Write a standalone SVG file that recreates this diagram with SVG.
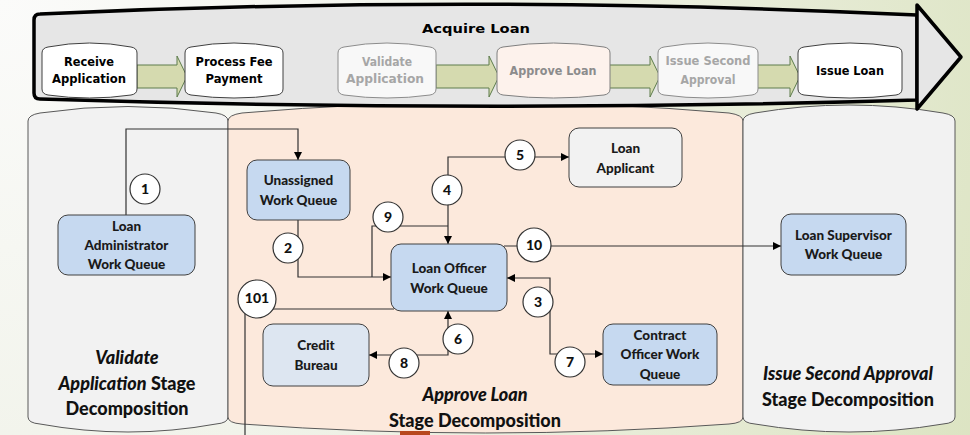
<svg xmlns="http://www.w3.org/2000/svg" width="970" height="435" viewBox="0 0 970 435">
  <defs>
    <radialGradient id="bg" cx="0" cy="0" r="1100" gradientUnits="userSpaceOnUse">
      <stop offset="0" stop-color="#fbfbfa"/>
      <stop offset="0.45" stop-color="#f1f3ea"/>
      <stop offset="1" stop-color="#dbe3c0"/>
    </radialGradient>
    <marker id="arr" viewBox="0 0 10 10" refX="10" refY="5" markerWidth="9" markerHeight="8" markerUnits="userSpaceOnUse" orient="auto-start-reverse">
      <path d="M0,0 L10,5 L0,10 Z" fill="#000"/>
    </marker>
    <style>
      .banner { fill: #e6e6e6; stroke: #000; stroke-width: 3.5; stroke-linejoin: round; }
      .step { stroke: #404040; stroke-width: 1; }
      .flow { fill: #d5daaf; stroke: #5e7d4d; stroke-width: 1; }
      .btxt { font-family: "DejaVu Sans", "Liberation Sans", sans-serif; font-weight: bold; font-size: 13px; text-anchor: middle; }
      .col { fill: #f2f2f2; stroke: #595959; stroke-width: 1; }
      .colmid { fill: #fce9dc; stroke: #595959; stroke-width: 1; }
      .node rect { stroke: #404040; stroke-width: 1; }
      .blue { fill: #c6d9f0; }
      .ntxt { font-family: Lato, "Liberation Sans", sans-serif; font-weight: 900; font-size: 13.5px; text-anchor: middle; fill: #1a1a1a; }
      .ctxt { font-family: Lato, "Liberation Sans", sans-serif; font-weight: 900; font-size: 18px; text-anchor: middle; fill: #111; }
      .conn { fill: none; stroke: #333; stroke-width: 1.2; }
      .num circle { fill: #fff; stroke: #333; stroke-width: 1.2; }
      .num text { font-family: Lato, "Liberation Sans", sans-serif; font-weight: 900; font-size: 14px; text-anchor: middle; fill: #111; }
    </style>
  </defs>

  <!-- backdrop -->
  <rect x="0" y="0" width="970" height="435" fill="url(#bg)"/>

  <!-- stage decomposition columns -->
  <g id="col-validate">
    <path class="col" d="M28,121 Q28,115 40,113 Q128,100 216,113 Q228,115 228,121 V417 Q228,423 216,424 Q128,440 40,424 Q28,423 28,417 Z"/>
  </g>
  <g id="col-approve">
    <path class="colmid" d="M228,121 Q228,115 242,113 Q485,92 729,113 Q743,115 743,121 V417 Q743,423 729,424 Q485,442 242,424 Q228,423 228,417 Z"/>
  </g>
  <g id="col-second">
    <path class="col" d="M743,121 Q743,115 755,113 Q849,97 943,113 Q955,115 955,121 V417 Q955,423 943,424 Q849,440 755,424 Q743,423 743,417 Z"/>
  </g>
  <rect x="400" y="431" width="30" height="4" fill="#b8481e"/>

  <!-- column captions -->
  <text class="ctxt" x="127" y="364" font-style="italic">Validate</text>
  <text class="ctxt" x="127" y="390"><tspan font-style="italic">Application</tspan> Stage</text>
  <text class="ctxt" x="127" y="415">Decomposition</text>
  <text class="ctxt" x="475" y="401" font-style="italic">Approve Loan</text>
  <text class="ctxt" x="475" y="427">Stage Decomposition</text>
  <text class="ctxt" x="848" y="380"><tspan font-style="italic">Issue Second Approval</tspan></text>
  <text class="ctxt" x="848" y="406">Stage Decomposition</text>

  <!-- value-stream banner -->
  <g id="banner">
    <path class="banner" d="M34,20 Q34,14 40,14 Q475,-6 917,15 L917,100 Q485,113 40,99 Q34,99 34,93 Z"/>
    <polygon class="banner" points="917,5 961,57 917,109"/>
    <text class="btxt" x="476" y="33" font-size="15" textLength="108" lengthAdjust="spacingAndGlyphs">Acquire Loan</text>

    <!-- flow arrows between steps -->
    <polygon class="flow" points="137,65 177,65 177,56 187,76.5 177,97 177,88 137,88"/>
    <polygon class="flow" points="436,65 489,65 489,56 499,76.5 489,97 489,88 436,88"/>
    <polygon class="flow" points="609,65 650,65 650,56 660,76.5 650,97 650,88 609,88"/>
    <polygon class="flow" points="757,65 790,65 790,56 800,76.5 790,97 790,88 757,88"/>

    <g id="step-receive">
      <path class="step" fill="#fff" d="M42,53 Q42,48 48,47 Q89.5,39 131,47 Q137,48 137,53 V89 Q137,94 131,95 Q89.5,101 48,95 Q42,94 42,89 Z"/>
      <text class="btxt" x="89" y="66" textLength="50" lengthAdjust="spacingAndGlyphs">Receive</text>
      <text class="btxt" x="89" y="83" textLength="74" lengthAdjust="spacingAndGlyphs">Application</text>
    </g>
    <g id="step-fee">
      <path class="step" fill="#fff" d="M185,53 Q185,48 191,47 Q234,39 277,47 Q283,48 283,53 V89 Q283,94 277,95 Q234,101 191,95 Q185,94 185,89 Z"/>
      <text class="btxt" x="234" y="66" textLength="77" lengthAdjust="spacingAndGlyphs">Process Fee</text>
      <text class="btxt" x="234" y="83" textLength="57" lengthAdjust="spacingAndGlyphs">Payment</text>
    </g>
    <g id="step-validate">
      <path class="step" fill="#f8f8f8" d="M338,53 Q338,48 344,47 Q387,39 430,47 Q436,48 436,53 V89 Q436,94 430,95 Q387,101 344,95 Q338,94 338,89 Z" style="stroke:#8c8c8c"/>
      <text class="btxt" x="387" y="66" fill="#a6a6a6" textLength="50" lengthAdjust="spacingAndGlyphs">Validate</text>
      <text class="btxt" x="385" y="83" fill="#a6a6a6" textLength="78" lengthAdjust="spacingAndGlyphs">Application</text>
    </g>
    <g id="step-approve">
      <path class="step" fill="#fdf2ec" d="M497,53 Q497,48 503,47 Q553.5,39 604,47 Q610,48 610,53 V89 Q610,94 604,95 Q553.5,101 503,95 Q497,94 497,89 Z" style="stroke:#7f7f7f"/>
      <text class="btxt" x="553" y="75" fill="#8c8c8c" textLength="87" lengthAdjust="spacingAndGlyphs">Approve Loan</text>
    </g>
    <g id="step-second">
      <path class="step" fill="#f8f8f8" d="M658,53 Q658,48 664,47 Q708,39 752,47 Q758,48 758,53 V89 Q758,94 752,95 Q708,101 664,95 Q658,94 658,89 Z" style="stroke:#8c8c8c"/>
      <text class="btxt" x="708" y="65" fill="#a6a6a6" textLength="85" lengthAdjust="spacingAndGlyphs">Issue Second</text>
      <text class="btxt" x="708" y="84" fill="#a6a6a6" textLength="55" lengthAdjust="spacingAndGlyphs">Approval</text>
    </g>
    <g id="step-issue">
      <path class="step" fill="#fff" d="M798,53 Q798,48 804,47 Q850,39 896,47 Q902,48 902,53 V89 Q902,94 896,95 Q850,101 804,95 Q798,94 798,89 Z"/>
      <text class="btxt" x="850" y="75" textLength="68" lengthAdjust="spacingAndGlyphs">Issue Loan</text>
    </g>
  </g>

  <!-- connectors -->
  <g id="connectors">
    <path class="conn" d="M126,215 V129 H298 V160" marker-end="url(#arr)"/>
    <path class="conn" d="M298,220 V277 H391" marker-end="url(#arr)"/>
    <path class="conn" d="M372,277 V226 H448"/>
    <path class="conn" d="M448,244 V157 H569" marker-start="url(#arr)" marker-end="url(#arr)"/>
    <path class="conn" d="M504,246 H781" marker-end="url(#arr)"/>
    <path class="conn" d="M507,278 H550 V354 H603" marker-start="url(#arr)" marker-end="url(#arr)"/>
    <path class="conn" d="M448,311 V355 H369" marker-start="url(#arr)" marker-end="url(#arr)"/>
    <path class="conn" d="M394,309 H245 V435"/>
  </g>

  <!-- work queues and parties -->
  <g id="loan-admin" class="node">
    <rect class="blue" x="58" y="215" width="137" height="60" rx="10"/>
    <text class="ntxt" x="126.5" y="231">Loan</text>
    <text class="ntxt" x="126.5" y="250">Administrator</text>
    <text class="ntxt" x="126.5" y="269">Work Queue</text>
  </g>
  <g id="unassigned" class="node">
    <rect class="blue" x="247" y="160" width="103" height="60" rx="10"/>
    <text class="ntxt" x="298.5" y="185">Unassigned</text>
    <text class="ntxt" x="298.5" y="205">Work Queue</text>
  </g>
  <g id="loan-officer" class="node">
    <rect class="blue" x="391" y="244" width="116" height="67" rx="10"/>
    <text class="ntxt" x="449" y="273">Loan Officer</text>
    <text class="ntxt" x="449" y="293">Work Queue</text>
  </g>
  <g id="loan-applicant" class="node">
    <rect fill="#f2f2f2" x="569" y="128" width="113" height="59" rx="10"/>
    <text class="ntxt" x="625.5" y="153">Loan</text>
    <text class="ntxt" x="625.5" y="173">Applicant</text>
  </g>
  <g id="loan-supervisor" class="node">
    <rect class="blue" x="781" y="214" width="125" height="61" rx="10"/>
    <text class="ntxt" x="843.5" y="240">Loan Supervisor</text>
    <text class="ntxt" x="843.5" y="259">Work Queue</text>
  </g>
  <g id="credit-bureau" class="node">
    <rect fill="#dde6f1" x="263" y="324" width="106" height="62" rx="10"/>
    <text class="ntxt" x="316" y="350">Credit</text>
    <text class="ntxt" x="316" y="370">Bureau</text>
  </g>
  <g id="contract-officer" class="node">
    <rect class="blue" x="603" y="324" width="114" height="61" rx="10"/>
    <text class="ntxt" x="660" y="340">Contract</text>
    <text class="ntxt" x="660" y="359">Officer Work</text>
    <text class="ntxt" x="660" y="379">Queue</text>
  </g>

  <!-- step numbers on connectors -->
  <g id="step-numbers" class="num">
    <circle cx="145" cy="189" r="15"/><text x="145" y="194">1</text>
    <circle cx="288" cy="248" r="15"/><text x="288" y="253">2</text>
    <circle cx="538" cy="302" r="15"/><text x="538" y="307">3</text>
    <circle cx="447" cy="190" r="15"/><text x="447" y="195">4</text>
    <circle cx="520" cy="155" r="15"/><text x="520" y="160">5</text>
    <circle cx="458" cy="339" r="15"/><text x="458" y="344">6</text>
    <circle cx="570" cy="362" r="15"/><text x="570" y="367">7</text>
    <circle cx="404" cy="363" r="15"/><text x="404" y="368">8</text>
    <circle cx="388" cy="217" r="15"/><text x="388" y="222">9</text>
    <circle cx="534" cy="245" r="17"/><text x="534" y="250" font-size="13">10</text>
    <circle cx="257" cy="299" r="19"/><text x="257" y="303" font-size="10.5">101</text>
  </g>
</svg>
